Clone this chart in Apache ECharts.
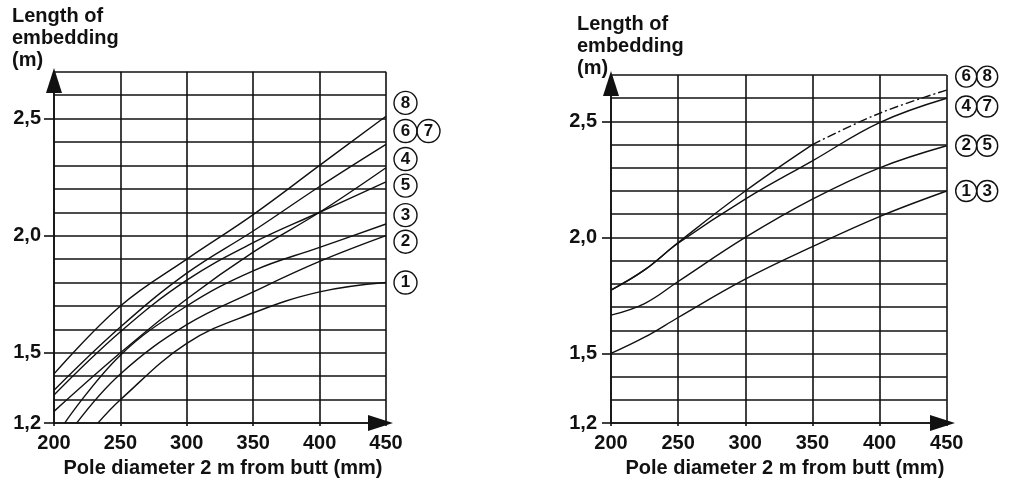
<!DOCTYPE html>
<html>
<head>
<meta charset="utf-8">
<title>Length of embedding</title>
<script src="https://cdn.jsdelivr.net/npm/echarts@6/dist/echarts.min.js"></script>
<style>
  html, body { margin: 0; padding: 0; background: #fff; }
  #chart { width: 1014px; height: 483px; }
</style>
</head>
<body>
<div id="chart"></div>
<script>
// pole diameter 2 m from butt (mm)
var diam = [200, 250, 300, 350, 400, 450];
var diamR = [200, 225, 250, 300, 350, 400, 450];
var yTicks = [1.2, 1.5, 2.0, 2.5];

// left chart, length of embedding (m)
var left8 = [1.41, 1.70, 1.90, 2.09, 2.30, 2.51];
var left67 = [1.34, 1.61, 1.84, 2.02, 2.21, 2.39];
var left5 = [1.32, 1.59, 1.81, 1.97, 2.10, 2.23];
var left4 = [1.25, 1.50, 1.73, 1.93, 2.10, 2.29];
var left3X = [208, 250, 300, 350, 400, 450];
var left3 = [1.20, 1.49, 1.70, 1.85, 1.95, 2.05];
var left2X = [217, 250, 300, 350, 400, 450];
var left2 = [1.20, 1.41, 1.62, 1.76, 1.89, 2.00];
var left1X = [233, 250, 300, 350, 400, 450];
var left1 = [1.20, 1.30, 1.54, 1.67, 1.76, 1.80];

// right chart
var right68X = [200, 225, 250, 300, 350];
var right68 = [1.773, 1.86, 1.978, 2.20, 2.40];
var right68extX = [350, 400, 450];
var right68ext = [2.40, 2.535, 2.635];
var right47 = [1.773, 1.86, 1.975, 2.165, 2.33, 2.495, 2.60];
var right25 = [1.665, 1.715, 1.81, 2.00, 2.165, 2.30, 2.395];
var right13 = [1.50, 1.57, 1.655, 1.82, 1.96, 2.09, 2.20];

var FONT = '"Liberation Sans", Arial, sans-serif';
var INK = '#111';

function zip(xs, ys) {
  return xs.map(function (x, i) { return [x, ys[i]]; });
}

// circled curve numbers at the end of each line
function curve(gi, xs, ys, tags, dy, dash) {
  var s = {
    type: 'line',
    name: tags ? tags.join('') : '',
    xAxisIndex: gi,
    yAxisIndex: gi,
    data: zip(xs, ys),
    smooth: 0.4,
    showSymbol: false,
    symbol: 'none',
    lineStyle: { color: INK, width: 1.4, type: dash || 'solid' },
    silent: true
  };
  if (tags) {
    var d = gi === 0 ? 23 : 21;
    s.endLabel = {
      show: true,
      distance: gi === 0 ? 8 : 9,
      offset: [0, dy],
      formatter: function () {
        return tags.map(function (t) { return '{c|' + t + '}'; }).join('');
      },
      rich: {
        c: {
          width: d,
          height: d,
          lineHeight: d,
          align: 'center',
          borderColor: INK,
          borderWidth: 1.4,
          borderRadius: d / 2 + 1,
          fontSize: 17,
          fontWeight: 'bold',
          fontFamily: FONT,
          color: INK
        }
      }
    };
  }
  return s;
}

function xAxis(gi, arrowOff, namePad) {
  return {
    type: 'value',
    gridIndex: gi,
    min: 200,
    max: 450,
    interval: 50,
    name: 'Pole diameter 2 m from butt (mm)',
    nameLocation: 'middle',
    nameGap: 34,
    nameTextStyle: { fontSize: 20, fontWeight: 'bold', color: INK, fontFamily: FONT, padding: [0, 0, 0, namePad] },
    axisLine: {
      show: true, onZero: false,
      lineStyle: { color: INK, width: 1.6 },
      symbol: ['none', 'triangle'], symbolSize: [16, 25], symbolOffset: [0, arrowOff]
    },
    axisTick: { show: true, length: 3, lineStyle: { color: INK, width: 1.6 } },
    axisLabel: { fontSize: 20, fontWeight: 'bold', color: INK, fontFamily: FONT, margin: 10 },
    splitLine: { show: true, lineStyle: { color: INK, width: 1.6 } }
  };
}

// grid axis: line, arrow, name and the 0,1 m grid lines
function yAxis(gi, arrowOff, nameGap, nameShift) {
  return {
    type: 'value',
    gridIndex: gi,
    min: 1.2,
    max: 2.7,
    interval: 0.1,
    name: 'Length of\nembedding\n(m)',
    nameLocation: 'end',
    nameGap: nameGap,
    nameTextStyle: {
      align: 'left', verticalAlign: 'bottom', lineHeight: 22,
      fontSize: 20, fontWeight: 'bold', color: INK, fontFamily: FONT,
      padding: [0, 0, 0, nameShift]
    },
    axisLine: {
      show: true, onZero: false,
      lineStyle: { color: INK, width: 1.6 },
      symbol: ['none', 'triangle'], symbolSize: [16, 25], symbolOffset: [0, arrowOff]
    },
    axisTick: { show: false },
    axisLabel: { show: false },
    splitLine: { show: true, lineStyle: { color: INK, width: 1.6 } }
  };
}

// label axis: only the labelled values get a tick
function yLabels(gi, tickLen, labelMargin) {
  return {
    type: 'value',
    gridIndex: gi,
    position: 'left',
    offset: 0,
    min: 1.2,
    max: 2.7,
    interval: 0.1,
    axisLine: { show: false },
    splitLine: { show: false },
    axisTick: { show: true, length: tickLen, customValues: yTicks, lineStyle: { color: INK, width: 1.6 } },
    axisLabel: {
      customValues: yTicks,
      fontSize: 20, fontWeight: 'bold', color: INK, fontFamily: FONT, margin: labelMargin,
      formatter: function (v) { return v.toFixed(1).replace('.', ','); }
    }
  };
}

var chart = echarts.init(document.getElementById('chart'), null, { renderer: 'canvas' });

chart.setOption({
  backgroundColor: '#fff',
  animation: false,
  textStyle: { fontFamily: FONT },
  grid: [
    { left: 54, top: 71.7, width: 332, height: 355 },
    { left: 611, top: 75, width: 335.7, height: 351.7 }
  ],
  xAxis: [xAxis(0, -5.5, 6), xAxis(1, -4.2, 12)],
  yAxis: [
    yAxis(0, -8.8, 0, -42), yAxis(1, -8.5, -4, -34),
    yLabels(0, 10, 13), yLabels(1, 9, 14)
  ],
  series: [
    curve(0, diam, left8, ['8'], -13.3),
    curve(0, diam, left67, ['6', '7'], -13.3),
    curve(0, diam, left4, ['4'], -8.7),
    curve(0, diam, left5, ['5'], 3.8),
    curve(0, left3X, left3, ['3'], -8.8),
    curve(0, left2X, left2, ['2'], 6),
    curve(0, left1X, left1, ['1'], 0),

    curve(1, right68X, right68, null, 0),
    curve(1, right68extX, right68ext, ['6', '8'], -13.5, [9, 3, 2, 3]),
    curve(1, diamR, right47, ['4', '7'], 8.3),
    curve(1, diamR, right25, ['2', '5'], 0),
    curve(1, diamR, right13, ['1', '3'], 0)
  ]
});
</script>
</body>
</html>
